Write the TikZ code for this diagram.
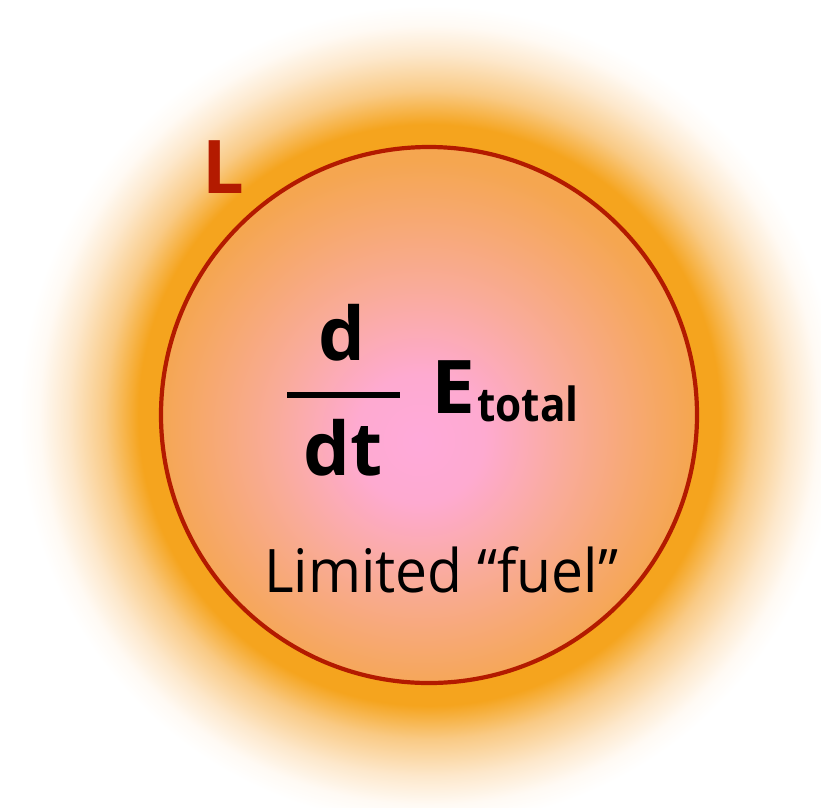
\documentclass[tikz,border=0pt]{standalone}
\usepackage{fontspec}
\setmainfont{Open Sans}
\definecolor{glowor}{HTML}{F5A41E}
\definecolor{glowmid}{HTML}{F9CA85}
\definecolor{glowpale}{HTML}{FDE8CC}
\definecolor{glowfaint}{HTML}{FFFAF4}
\definecolor{corepink}{HTML}{FFAADA}
\definecolor{coresalmon}{HTML}{F9AB98}
\definecolor{coreedge}{HTML}{F5A650}
\definecolor{rimred}{HTML}{B31A00}
\pgfdeclareradialshading{glowsh}{\pgfpoint{0bp}{0bp}}{color(0bp)=(glowor); color(17.3bp)=(glowor); color(19.3bp)=(glowmid); color(21.5bp)=(glowpale); color(23.2bp)=(glowfaint); color(24.4bp)=(white); color(50bp)=(white)}
\pgfdeclareradialshading{coresh}{\pgfpoint{-1bp}{-2.5bp}}{color(0bp)=(corepink); color(6bp)=(corepink!85!coresalmon); color(14bp)=(coresalmon); color(25bp)=(coreedge); color(50bp)=(coreedge)}
\tikzset{
  bigbold/.style={font=\bfseries\fontsize{74}{80}\selectfont, inner sep=0pt},
  subbold/.style={font=\bfseries\fontsize{47}{52}\selectfont, inner sep=0pt},
  plain/.style={font=\fontsize{60}{66}\selectfont, inner sep=0pt},
}
\begin{document}
\begin{tikzpicture}[x=1pt,y=-1pt]
\useasboundingbox (0,0) rectangle (821,807);
\begin{scope}
\clip (0,0) rectangle (821,807);
\node[circle, inner sep=0pt, minimum size=840pt, shading=glowsh] (glow) at (429,415) {};
\end{scope}
\node[circle, inner sep=0pt, minimum size=536pt, shading=coresh, draw=rimred, line width=4.2pt] (core) at (429,415) {};
\node[bigbold, text=rimred, anchor=base west] (L) at (202,193) {L};
\node[bigbold, anchor=base] (dnum) at (342,360) {d};
\node[fill=black, minimum width=113pt, minimum height=6.5pt, inner sep=0pt] (bar) at (343.5,395) {};
\node[bigbold, anchor=base] (dden) at (343,475) {dt};
\node[bigbold, anchor=base west] (E) at (431,413) {\scalebox{1.06}[1]{E}};
\node[subbold, anchor=base west] (tot) at (477,421) {\scalebox{0.9}[1]{total}};
\node[plain, anchor=base west] (lim) at (264,592) {\scalebox{0.95}[1]{Limited “fuel”}};
\end{tikzpicture}
\end{document}
